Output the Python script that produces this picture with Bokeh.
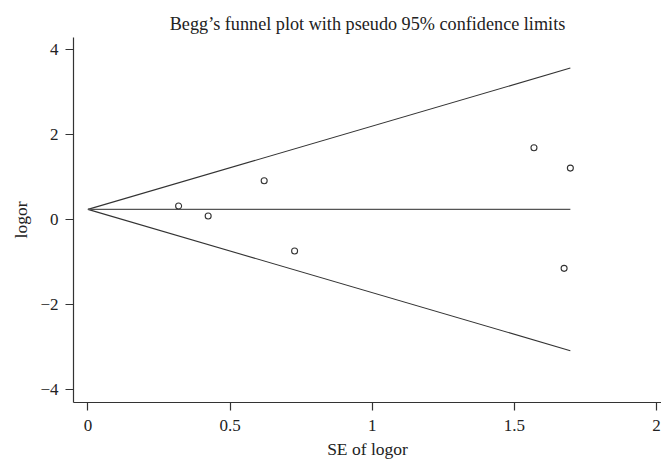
from bokeh.plotting import figure
from bokeh.models import Range1d, FixedTicker
from bokeh.embed import file_html
from bokeh.resources import INLINE

# Data
se = [0.319, 0.423, 0.620, 0.727, 1.569, 1.697, 1.675]
logor = [0.313, 0.078, 0.910, -0.746, 1.687, 1.207, -1.153]
pooled = 0.235
z = 1.96
x_ticks = [0, 0.5, 1, 1.5, 2]
x_tick_labels = {0: "0", 0.5: "0.5", 1: "1", 1.5: "1.5", 2: "2"}
y_ticks = [-4, -2, 0, 2, 4]
y_tick_labels = {-4: "\u22124", -2: "\u22122", 0: "0", 2: "2", 4: "4"}
title_text = "Begg\u2019s funnel plot with pseudo 95% confidence limits"

se_max = max(se)
funnel_x = [0, se_max]
upper = [pooled, pooled + z * se_max]
lower = [pooled, pooled - z * se_max]
mid = [pooled, pooled]

FONT = "Liberation Serif"
INK = "#333333"

p = figure(width=661, height=464, output_backend="svg", toolbar_location=None,
           x_range=Range1d(-0.0507, 2.0176), y_range=Range1d(-4.31, 4.28),
           min_border_left=73, min_border_right=0, min_border_top=37, min_border_bottom=62,
           title=title_text)

p.title.align = "center"
p.title.vertical_align = "top"
p.title.text_font = FONT
p.title.text_font_size = "18.2px"
p.title.text_font_style = "normal"
p.title.text_color = "#222222"
p.title.offset = 10
p.title.standoff = 4

p.outline_line_color = None
p.xgrid.visible = False
p.ygrid.visible = False

p.line(funnel_x, upper, line_color=INK, line_width=1.1)
p.line(funnel_x, lower, line_color=INK, line_width=1.1)
p.line(funnel_x, mid, line_color="#555555", line_width=1.3)
p.scatter(se, logor, marker="circle", size=6, fill_color=None, line_color=INK, line_width=1.1)

for ax in (p.xaxis[0], p.yaxis[0]):
    ax.axis_line_color = INK
    ax.axis_line_width = 1.2
    ax.major_tick_line_color = INK
    ax.major_tick_line_width = 1.2
    ax.major_tick_out = 8
    ax.major_tick_in = 0
    ax.minor_tick_out = 0
    ax.minor_tick_in = 0
    ax.major_label_text_font = FONT
    ax.major_label_text_font_size = "17px"
    ax.major_label_text_color = "#222222"
    ax.axis_label_text_font = FONT
    ax.axis_label_text_font_size = "17.5px"
    ax.axis_label_text_font_style = "normal"
    ax.axis_label_text_color = "#222222"

p.xaxis[0].ticker = FixedTicker(ticks=x_ticks)
p.xaxis[0].major_label_overrides = x_tick_labels
p.xaxis[0].major_label_standoff = 9
p.xaxis[0].axis_label = "SE of logor"
p.xaxis[0].axis_label_standoff = 5

p.yaxis[0].ticker = FixedTicker(ticks=y_ticks)
p.yaxis[0].major_label_overrides = y_tick_labels
p.yaxis[0].major_label_orientation = "horizontal"
p.yaxis[0].major_label_standoff = 7
p.yaxis[0].axis_label = "logor"
p.yaxis[0].axis_label_standoff = 6

open("out.html", "w").write(file_html(p, INLINE))
